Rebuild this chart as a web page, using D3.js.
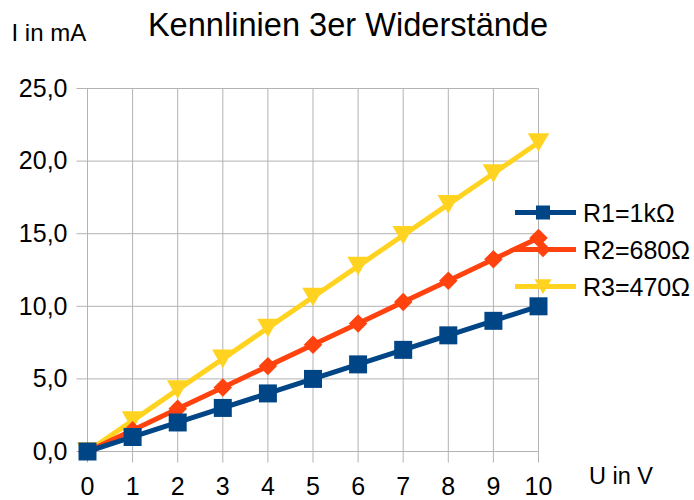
<!DOCTYPE html>
<html>
<head>
<meta charset="utf-8">
<script src="https://cdn.jsdelivr.net/npm/d3@7"></script>
<style>
	body { margin: 0; background: #fff; }
	svg { display: block; font-family: "Liberation Sans", Arial, sans-serif; }
</style>
</head>
<body>
<div id="graphicContainer"></div>
<script>

var voltages = [0, 1, 2, 3, 4, 5, 6, 7, 8, 9, 10]
var currentR1 = [0, 1, 2, 3, 4, 5, 6, 7, 8, 9, 10]
var currentR2 = [0, 1.47, 2.94, 4.41, 5.88, 7.35, 8.82, 10.29, 11.76, 13.24, 14.71]
var currentR3 = [0, 2.13, 4.26, 6.38, 8.51, 10.64, 12.77, 14.89, 17.02, 19.15, 21.28]
var seriesNames = ["R1=1kΩ", "R2=680Ω", "R3=470Ω"]
var yTicks = [0, 5, 10, 15, 20, 25]
var xTicks = [0, 1, 2, 3, 4, 5, 6, 7, 8, 9, 10]

var width = 694, height = 500
var margin = {top: 88.5, right: 155.5, bottom: 48.5, left: 87.5}

var svg = d3.select("#graphicContainer").append("svg")
	.attr("width", width)
	.attr("height", height)

var x = d3.scaleLinear()
	.domain([0, 10])
	.range([margin.left, width - margin.right])

var y = d3.scaleLinear()
	.domain([0, 25])
	.range([height - margin.bottom, margin.top])

var fmt = d => d.toFixed(1).replace(".", ",")

// grid
var grid = svg.append("g").attr("stroke", "#b3b3b3").attr("stroke-width", 1)
grid.selectAll(".hg").data(yTicks).join("line")
	.attr("x1", x(0) - 11).attr("x2", x(10))
	.attr("y1", d => y(d)).attr("y2", d => y(d))
grid.selectAll(".vg").data(xTicks).join("line")
	.attr("x1", d => x(d)).attr("x2", d => x(d))
	.attr("y1", y(25)).attr("y2", y(0) + 11)

// tick labels
svg.append("g").selectAll("text").data(yTicks).join("text")
	.attr("x", x(0) - 20)
	.attr("y", d => y(d) + 8.2)
	.attr("text-anchor", "end")
	.attr("font-size", 25)
	.attr("fill", "#000")
	.text(fmt)

svg.append("g").selectAll("text").data(xTicks).join("text")
	.attr("x", d => x(d))
	.attr("y", 495)
	.attr("text-anchor", "middle")
	.attr("font-size", 25)
	.attr("fill", "#000")
	.text(d => d)

// titles
svg.append("text")
	.attr("x", 348).attr("y", 36)
	.attr("text-anchor", "middle")
	.attr("font-size", 32.6)
	.text("Kennlinien 3er Widerstände")

svg.append("text")
	.attr("x", 11.5).attr("y", 41)
	.attr("font-size", 24)
	.text("I in mA")

svg.append("text")
	.attr("x", 589).attr("y", 484.3)
	.attr("font-size", 23.5)
	.text("U in V")

var series = [
	{name: seriesNames[0], values: currentR1, color: "#004586", symbol: d3.symbolSquare, size: 324, legSize: 196, rot: 0},
	{name: seriesNames[1], values: currentR2, color: "#ff420e", symbol: d3.symbolSquare, size: 170, legSize: 120, rot: 45},
	{name: seriesNames[2], values: currentR3, color: "#ffd320", symbol: d3.symbolTriangle, size: 200, legSize: 125, rot: 180, shift: 3.1, legShift: 2.4}
]

function place(s, px, py, shift) {
	var t = `translate(${px},${py})`
	if (s.rot) t += ` rotate(${s.rot})`
	if (shift) t += ` translate(0,${shift})`
	return t
}

var line = d3.line()
	.x((d, i) => x(voltages[i]))
	.y(d => y(d))

var plot = svg.append("g")

// draw last series first so R1 ends on top
series.slice().reverse().forEach(s => {
	var g = plot.append("g")
	g.append("path")
		.datum(s.values)
		.attr("fill", "none")
		.attr("stroke", s.color)
		.attr("stroke-width", 5)
		.attr("stroke-linejoin", "round")
		.attr("d", line)
	g.selectAll("path.m").data(s.values).join("path")
		.attr("class", "m")
		.attr("fill", s.color)
		.attr("transform", (d, i) => place(s, x(voltages[i]), y(d), s.shift))
		.attr("d", d3.symbol().type(s.symbol).size(s.size))
})

// legend
var legend = svg.append("g")
series.forEach((s, i) => {
	var ly = 212.5 + i * 37
	var g = legend.append("g").attr("transform", `translate(0,${ly})`)
	g.append("line")
		.attr("x1", 515).attr("x2", 576)
		.attr("stroke", s.color)
		.attr("stroke-width", 5)
	g.append("path")
		.attr("fill", s.color)
		.attr("transform", place(s, 543, 0, s.legShift))
		.attr("d", d3.symbol().type(s.symbol).size(s.legSize))
	g.append("text")
		.attr("x", 583)
		.attr("y", 9)
		.attr("font-size", 25)
		.text(s.name)
})

</script>
</body>
</html>
